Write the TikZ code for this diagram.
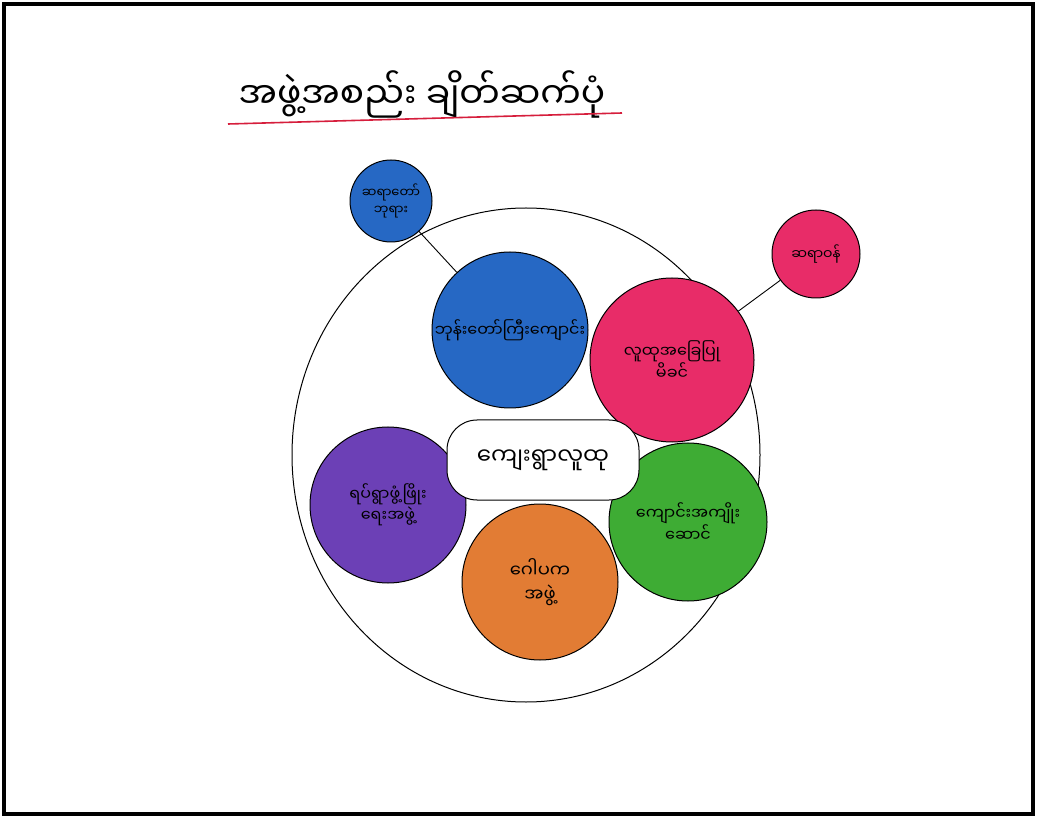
\documentclass[tikz,border=0pt]{standalone}
\usepackage{fontspec}
\usetikzlibrary{shapes.geometric}
\newfontfamily\mmfont[Script=Myanmar]{Noto Sans Myanmar UI}
\definecolor{penred}{RGB}{214,30,60}
\definecolor{bluefill}{RGB}{38,104,196}
\definecolor{pinkfill}{RGB}{232,44,104}
\definecolor{purplefill}{RGB}{108,64,182}
\definecolor{orangefill}{RGB}{226,124,52}
\definecolor{greenfill}{RGB}{62,172,52}
\tikzset{
  org/.style={circle, draw=black, line width=1pt, inner sep=0pt, align=center,
    font=\mmfont\fontsize{16}{21}\selectfont},
  link/.style={line width=0.9pt}
}

\begin{document}
\begin{tikzpicture}[x=1pt,y=-1pt]
    \useasboundingbox (0,0) rectangle (1037,818);
    \fill[white] (0,0) rectangle (1037,818);
    \draw[line width=4pt] (4,4) rectangle (1033,814);
    % title
    \node[font=\mmfont\fontsize{36}{40}\selectfont] (title) at (422,94) {အဖွဲ့အစည်း ချိတ်ဆက်ပုံ};
    \coordinate (ulA) at (228,124);
    \coordinate (ulB) at (622,113);
    \draw[penred, line width=1.6pt] (ulA) -- (ulB);
    % village boundary
    \node[ellipse, draw, line width=1pt, minimum width=468pt, minimum height=494pt] (village) at (526,455) {};
    % organisations
    \node[org, fill=bluefill, minimum size=82pt, font=\mmfont\fontsize{13}{17}\selectfont] (abbot) at (391,201) {ဆရာတော်\\ဘုရား};
    \node[org, fill=bluefill, minimum size=156pt] (monastery) at (510,330) {ဘုန်းတော်ကြီးကျောင်း};
    \node[org, fill=pinkfill, minimum size=164pt] (health) at (672,360) {လူထုအခြေပြု\\မိခင်};
    \node[org, fill=pinkfill, minimum size=88pt, font=\mmfont\fontsize{14}{17}\selectfont] (doctor) at (816,254) {ဆရာဝန်};
    \node[org, fill=purplefill, minimum size=156pt] (develop) at (388,505) {ရပ်ရွာဖွံ့ဖြိုး\\ရေးအဖွဲ့};
    \node[org, fill=orangefill, minimum size=156pt, font=\mmfont\fontsize{18}{24}\selectfont] (trustee) at (540,582) {ဂေါပက\\အဖွဲ့};
    \node[org, fill=greenfill, minimum size=158pt] (school) at (688,522) {ကျောင်းအကျိုး\\ဆောင်};
    \draw[link] (abbot) -- (monastery);
    \draw[link] (health) -- (doctor);
    % community in the middle
    \node[draw, fill=white, line width=1pt, rounded corners=30pt, minimum width=192pt,
      minimum height=80pt, font=\mmfont\fontsize{23}{26}\selectfont] (community) at (543,460) {ကျေးရွာလူထု};
\end{tikzpicture}
\end{document}
